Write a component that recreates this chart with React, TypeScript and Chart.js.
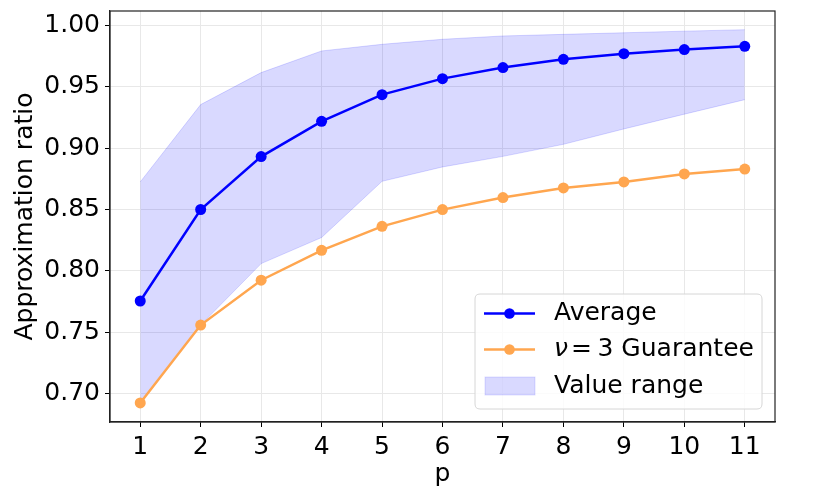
import React, { useEffect, useRef } from "react";
import { Chart, registerables } from "chart.js";

Chart.register(...registerables);

const pValues = [1, 2, 3, 4, 5, 6, 7, 8, 9, 10, 11];
const averageRatio = [0.7756, 0.85, 0.893, 0.9217, 0.9434, 0.9564, 0.9654, 0.9721, 0.9767, 0.98, 0.9827];
const guaranteeRatio = [0.6927, 0.756, 0.7925, 0.8168, 0.8363, 0.8499, 0.8597, 0.8675, 0.8724, 0.8789, 0.8829];
const rangeUpper = [0.8724, 0.9353, 0.9613, 0.9789, 0.9843, 0.9884, 0.9911, 0.9924, 0.9937, 0.995, 0.9962];
const rangeLower = [0.6927, 0.756, 0.806, 0.8272, 0.8729, 0.8846, 0.8932, 0.903, 0.9155, 0.9275, 0.9393];
const yTicks = [0.7, 0.75, 0.8, 0.85, 0.9, 0.95, 1.0];
const xTitle = "p";
const yTitle = "Approximation ratio";
const legendLabels = ["Average", "Guarantee", "Value range"];

const BLUE = "#0000ff";
const ORANGE = "#ffa64f";
const FONT = "DejaVu Sans";
const FS = 25;

const framePlugin = {
  id: "frame",
  afterDraw(chart: any) {
    const { ctx, chartArea: a } = chart;
    ctx.save();
    ctx.strokeStyle = "#222";
    ctx.lineWidth = 1.2;
    ctx.strokeRect(a.left, a.top, a.right - a.left, a.bottom - a.top);
    ctx.restore();
  },
};

const legendPlugin = {
  id: "customLegend",
  afterDraw(chart: any) {
    const { ctx, chartArea: a } = chart;
    const w = 287;
    const h = 115;
    const right = a.right - 13;
    const bottom = a.bottom - 13;
    const left = right - w;
    const top = bottom - h;
    ctx.save();
    const r = 5;
    ctx.beginPath();
    ctx.moveTo(left + r, top);
    ctx.lineTo(right - r, top);
    ctx.quadraticCurveTo(right, top, right, top + r);
    ctx.lineTo(right, bottom - r);
    ctx.quadraticCurveTo(right, bottom, right - r, bottom);
    ctx.lineTo(left + r, bottom);
    ctx.quadraticCurveTo(left, bottom, left, bottom - r);
    ctx.lineTo(left, top + r);
    ctx.quadraticCurveTo(left, top, left + r, top);
    ctx.closePath();
    ctx.fillStyle = "rgba(255,255,255,0.8)";
    ctx.fill();
    ctx.strokeStyle = "#d6d6d6";
    ctx.lineWidth = 1;
    ctx.stroke();

    const lx0 = left + 9;
    const lx1 = left + 60;
    const tx = left + 79;
    const rows = [top + 19.5, top + 55.5, top + 92];
    ctx.font = `${FS}px "${FONT}"`;
    ctx.textBaseline = "middle";
    ctx.fillStyle = "#000";

    ctx.strokeStyle = BLUE;
    ctx.lineWidth = 2.3;
    ctx.beginPath();
    ctx.moveTo(lx0, rows[0]);
    ctx.lineTo(lx1, rows[0]);
    ctx.stroke();
    ctx.fillStyle = BLUE;
    ctx.beginPath();
    ctx.arc((lx0 + lx1) / 2, rows[0], 5.3, 0, Math.PI * 2);
    ctx.fill();
    ctx.fillStyle = "#000";
    ctx.fillText(legendLabels[0], tx, rows[0]);

    ctx.strokeStyle = ORANGE;
    ctx.beginPath();
    ctx.moveTo(lx0, rows[1]);
    ctx.lineTo(lx1, rows[1]);
    ctx.stroke();
    ctx.fillStyle = ORANGE;
    ctx.beginPath();
    ctx.arc((lx0 + lx1) / 2, rows[1], 5.3, 0, Math.PI * 2);
    ctx.fill();
    ctx.fillStyle = "#000";
    ctx.font = `italic ${FS}px "${FONT}"`;
    ctx.fillText("ν", tx, rows[1]);
    ctx.font = `${FS}px "${FONT}"`;
    ctx.fillText("=", tx + 17, rows[1]);
    ctx.fillText("3 " + legendLabels[1], tx + 43.5, rows[1]);

    ctx.fillStyle = "rgba(0,0,255,0.15)";
    ctx.fillRect(lx0 + 1, rows[2] - 9, lx1 - lx0 - 1, 18);
    ctx.strokeStyle = "rgba(0,0,255,0.12)";
    ctx.lineWidth = 1;
    ctx.strokeRect(lx0 + 1, rows[2] - 9, lx1 - lx0 - 1, 18);
    ctx.fillStyle = "#000";
    ctx.fillText(legendLabels[2], tx, rows[2]);
    ctx.restore();
  },
};

export default function App() {
  const ref = useRef<HTMLCanvasElement | null>(null);

  useEffect(() => {
    document.body.style.margin = "0";
    const canvas = ref.current;
    if (!canvas) return;
    Chart.defaults.font.family = FONT;
    Chart.defaults.color = "#000";
    const pts = (ys: number[]) => pValues.map((x, i) => ({ x, y: ys[i] }));
    const chart = new Chart(canvas, {
      type: "line",
      data: {
        datasets: [
          {
            label: "Average",
            data: pts(averageRatio),
            borderColor: BLUE,
            backgroundColor: BLUE,
            borderWidth: 2.5,
            pointRadius: 5.5,
            pointBorderWidth: 0,
            fill: false,
          },
          {
            label: "Guarantee",
            data: pts(guaranteeRatio),
            borderColor: ORANGE,
            backgroundColor: ORANGE,
            borderWidth: 2.5,
            pointRadius: 5.5,
            pointBorderWidth: 0,
            fill: false,
          },
          {
            label: "Upper",
            data: pts(rangeUpper),
            borderColor: "rgba(0,0,255,0.15)",
            backgroundColor: "rgba(0,0,255,0.15)",
            borderWidth: 1,
            pointRadius: 0,
            fill: "+1",
          },
          {
            label: "Lower",
            data: pts(rangeLower),
            borderColor: "rgba(0,0,255,0.15)",
            backgroundColor: "rgba(0,0,255,0.15)",
            borderWidth: 1,
            pointRadius: 0,
            fill: false,
          },
        ],
      },
      options: {
        responsive: false,
        animation: false,
        devicePixelRatio: 1,
        layout: { padding: { top: 11, right: 55, left: 0, bottom: 0 } },
        plugins: {
          legend: { display: false },
          tooltip: { enabled: false },
        },
        scales: {
          x: {
            type: "linear",
            min: 0.5,
            max: 11.5,
            afterBuildTicks: (s: any) => {
              s.ticks = pValues.map((v) => ({ value: v }));
            },
            afterFit: (s: any) => {
              s.height = 77;
              s.paddingLeft = 0;
              s.paddingRight = 0;
            },
            ticks: {
              font: { size: FS },
              padding: 5,
              maxRotation: 0,
              autoSkip: false,
              callback: (v: any) => String(v),
            },
            grid: {
              color: "#e8e8e8",
              lineWidth: 1,
              tickColor: "#000",
              tickLength: 5,
            },
            border: { display: true, color: "#222", width: 1.2 },
            title: {
              display: true,
              text: xTitle,
              font: { size: FS },
              padding: { top: 0, bottom: 10 },
            },
          },
          y: {
            type: "linear",
            min: 0.6772,
            max: 1.0114,
            afterBuildTicks: (s: any) => {
              s.ticks = yTicks.map((v) => ({ value: v }));
            },
            afterFit: (s: any) => {
              s.width = 110;
              s.paddingTop = 0;
              s.paddingBottom = 0;
            },
            ticks: {
              font: { size: FS },
              padding: 5,
              autoSkip: false,
              callback: (v: any) => Number(v).toFixed(2),
            },
            grid: {
              color: "#e8e8e8",
              lineWidth: 1,
              tickColor: "#000",
              tickLength: 5,
            },
            border: { display: true, color: "#222", width: 1.2 },
            title: {
              display: true,
              text: yTitle,
              font: { size: FS },
              padding: { top: 10, bottom: 0 },
            },
          },
        },
      },
      plugins: [framePlugin, legendPlugin],
    } as any);
    return () => chart.destroy();
  }, []);

  return (
    <div style={{ position: "absolute", left: 0, top: 0, width: 830, height: 499 }}>
      <canvas ref={ref} width={830} height={499} />
    </div>
  );
}
